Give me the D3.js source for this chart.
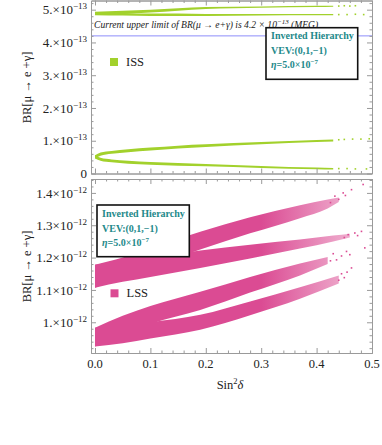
<!DOCTYPE html>
<html>
<head>
<meta charset="utf-8">
<script src="https://cdn.jsdelivr.net/npm/d3@7"></script>
<style>
  body { margin: 0; background: #fff; }
  svg { display: block; font-family: 'Liberation Serif', 'DejaVu Serif', serif; }
</style>
</head>
<body>
<svg width="382" height="445"></svg>
<script>
// ---- data (x = sin^2 delta, top panel in 1e-13, bottom panel in 1e-12) ----
const xTicks = [0, 0.1, 0.2, 0.3, 0.4, 0.5];
const xTickLabels = ['0.0', '0.1', '0.2', '0.3', '0.4', '0.5'];
const issTicks = [0, 1, 2, 3, 4, 5];
const issTickLabels = ['0', '1.', '2.', '3.', '4.', '5.'];
const lssTicks = [1.0, 1.1, 1.2, 1.3, 1.4];
const lssTickLabels = ['1.', '1.1', '1.2', '1.3', '1.4'];
const megLimit = 4.2;

// ISS bands: [x, low, high]
const issUpperA = [[0, 4.84, 4.94], [0.05, 4.87, 4.97], [0.1, 4.91, 5.0], [0.15, 4.97, 5.04], [0.2, 5.02, 5.08], [0.3, 5.06, 5.10], [0.4, 5.08, 5.12], [0.43, 5.09, 5.12]];
const issUpperB = [[0, 4.83, 4.92], [0.05, 4.82, 4.90], [0.1, 4.81, 4.88], [0.15, 4.81, 4.88], [0.2, 4.81, 4.87], [0.3, 4.82, 4.87], [0.4, 4.83, 4.87], [0.43, 4.83, 4.87]];
const issLowerA = [[0, 0.46, 0.56], [0.01, 0.54, 0.64], [0.03, 0.60, 0.69], [0.06, 0.65, 0.74], [0.1, 0.70, 0.79], [0.15, 0.76, 0.85], [0.2, 0.81, 0.89], [0.3, 0.89, 0.96], [0.4, 0.96, 1.02], [0.43, 0.98, 1.04]];
const issLowerB = [[0, 0.46, 0.56], [0.01, 0.39, 0.48], [0.03, 0.34, 0.43], [0.06, 0.30, 0.39], [0.1, 0.27, 0.35], [0.15, 0.24, 0.32], [0.2, 0.22, 0.29], [0.3, 0.17, 0.23], [0.4, 0.13, 0.18], [0.43, 0.12, 0.17]];
const issDots = [[0.44, 5.11], [0.45, 5.12], [0.46, 5.11], [0.47, 5.12], [0.44, 4.85], [0.455, 4.85], [0.47, 4.86], [0.485, 4.85],
  [0.44, 1.03], [0.45, 1.04], [0.465, 1.05], [0.48, 1.05], [0.495, 1.06], [0.44, 0.15], [0.455, 0.15], [0.47, 0.14], [0.49, 0.14]];

// LSS bands: [x, low, high]
const lssBandA = [[0, 1.107, 1.178], [0.05, 1.14, 1.20], [0.1, 1.17, 1.23], [0.19, 1.225, 1.28], [0.28, 1.275, 1.325], [0.37, 1.322, 1.362], [0.42, 1.352, 1.38], [0.44, 1.372, 1.386]];
const lssBandB = [[0, 1.107, 1.178], [0.05, 1.125, 1.19], [0.1, 1.14, 1.20], [0.19, 1.168, 1.222], [0.28, 1.197, 1.24], [0.37, 1.228, 1.256], [0.43, 1.25, 1.268], [0.46, 1.262, 1.274]];
const lssBandC = [[0, 0.925, 0.983], [0.05, 0.96, 1.02], [0.1, 0.995, 1.05], [0.19, 1.038, 1.094], [0.28, 1.092, 1.14], [0.37, 1.145, 1.182], [0.42, 1.18, 1.202]];
const lssBandD = [[0, 0.925, 0.983], [0.05, 0.935, 0.99], [0.1, 0.95, 1.0], [0.19, 0.977, 1.023], [0.28, 1.022, 1.064], [0.37, 1.073, 1.108], [0.44, 1.12, 1.145]];
const lssDots = [[0.484, 1.426], [0.463, 1.41], [0.448, 1.40], [0.433, 1.39], [0.452, 1.392], [0.44, 1.38], [0.425, 1.37],
  [0.481, 1.281], [0.469, 1.276], [0.457, 1.271], [0.474, 1.268], [0.45, 1.262], [0.487, 1.23],
  [0.454, 1.219], [0.46, 1.209], [0.436, 1.193], [0.445, 1.205], [0.43, 1.212], [0.425, 1.19],
  [0.463, 1.168], [0.445, 1.15], [0.455, 1.155], [0.45, 1.138], [0.44, 1.13]];

const lime = '#a2d12c';
const pink = '#db4b93';
const teal = '#23898a';
const frameCol = '#9a9a9a';

const svg = d3.select('svg');

const x = d3.scaleLinear().domain([-0.0072, 0.5]).range([91, 372]);
const yTop = d3.scaleLinear().domain([0, 5.28]).range([173.5, 0.5]);
const yBot = d3.scaleLinear().domain([0.905, 1.443]).range([353, 179]);

const defs = svg.append('defs');
[['clipTop', yTop], ['clipBot', yBot]].forEach(function (c) {
  const r = c[1].range();
  defs.append('clipPath').attr('id', c[0]).append('rect')
    .attr('x', x.range()[0]).attr('y', r[1])
    .attr('width', x.range()[1] - x.range()[0]).attr('height', r[0] - r[1]);
});
// scatter thins out toward the right end of the pink bands
const fade = defs.append('linearGradient').attr('id', 'pinkFade')
  .attr('gradientUnits', 'userSpaceOnUse')
  .attr('x1', x(0.3)).attr('x2', x(0.46)).attr('y1', 0).attr('y2', 0);
fade.append('stop').attr('offset', 0).attr('stop-color', pink).attr('stop-opacity', 1);
fade.append('stop').attr('offset', 1).attr('stop-color', pink).attr('stop-opacity', 0.45);

function drawBand(g, band, y, color) {
  const area = d3.area()
    .x(d => x(d[0]))
    .y0(d => y(d[1]))
    .y1(d => y(d[2]))
    .curve(d3.curveMonotoneX);
  g.append('path').datum(band).attr('d', area).attr('fill', color);
}

function drawDots(g, dots, y, color) {
  g.selectAll(null).data(dots).enter().append('rect')
    .attr('x', d => x(d[0]) - 0.8).attr('y', d => y(d[1]) - 0.8)
    .attr('width', 1.6).attr('height', 1.6).attr('fill', color);
}

function drawFrame(y, major, labels, minorStep, sup) {
  const g = svg.append('g');
  const [b, t] = y.range();
  const dom = y.domain();
  const minor = d3.range(Math.ceil(dom[0] / minorStep) * minorStep, dom[1], minorStep)
    .filter(v => !major.some(m => Math.abs(m - v) < 1e-9));
  const xMinor = d3.range(0, 0.5, 0.02).filter(v => !xTicks.some(m => Math.abs(m - v) < 1e-9));

  const left = g.append('g').attr('transform', `translate(${x.range()[0]},0)`)
    .call(d3.axisLeft(y).tickValues(major).tickSize(-5).tickSizeOuter(0).tickPadding(4).tickFormat(''));
  g.append('g').attr('transform', `translate(${x.range()[0]},0)`)
    .call(d3.axisLeft(y).tickValues(minor).tickSize(-2.5).tickSizeOuter(0).tickFormat(''));
  g.append('g').attr('transform', `translate(${x.range()[1]},0)`)
    .call(d3.axisRight(y).tickValues(major).tickSize(-5).tickSizeOuter(0).tickFormat(''));
  g.append('g').attr('transform', `translate(${x.range()[1]},0)`)
    .call(d3.axisRight(y).tickValues(minor).tickSize(-2.5).tickSizeOuter(0).tickFormat(''));
  [[b, d3.axisBottom], [t, d3.axisTop]].forEach(function (p) {
    g.append('g').attr('transform', `translate(0,${p[0]})`)
      .call(p[1](x).tickValues(xTicks).tickSize(-5).tickSizeOuter(0).tickFormat(''));
    g.append('g').attr('transform', `translate(0,${p[0]})`)
      .call(p[1](x).tickValues(xMinor).tickSize(-2.5).tickSizeOuter(0).tickFormat(''));
  });
  g.selectAll('.domain, .tick line').attr('stroke', frameCol);

  left.selectAll('.tick text').each(function (d, i) {
    const t = d3.select(this).attr('fill', '#222').attr('font-size', 13)
      .attr('font-family', 'Liberation Serif');
    if (labels[i] === '0') { t.text('0'); return; }
    t.text(labels[i] + '\u00d7' + '10');
    t.append('tspan').attr('dy', -5).attr('font-size', 9).text(sup);
  });
  return g;
}

// ---- top panel (ISS) ----
const gTop = svg.append('g').attr('clip-path', 'url(#clipTop)');
[issUpperA, issUpperB, issLowerA, issLowerB].forEach(b => drawBand(gTop, b, yTop, lime));
drawDots(gTop, issDots, yTop, lime);
gTop.append('line')
  .attr('x1', x.range()[0]).attr('x2', x.range()[1])
  .attr('y1', yTop(megLimit)).attr('y2', yTop(megLimit))
  .attr('stroke', '#8d8dfa').attr('stroke-width', 1);
drawFrame(yTop, issTicks, issTickLabels, 0.2, '\u221213');

// ---- bottom panel (LSS) ----
const gBot = svg.append('g').attr('clip-path', 'url(#clipBot)');
[lssBandA, lssBandB, lssBandC, lssBandD].forEach(b => drawBand(gBot, b, yBot, 'url(#pinkFade)'));
drawDots(gBot, lssDots, yBot, pink);
drawFrame(yBot, lssTicks, lssTickLabels, 0.02, '\u221212');

// x tick labels under bottom panel
svg.append('g').selectAll(null).data(xTicks).enter().append('text')
  .attr('x', d => x(d)).attr('y', 368)
  .attr('text-anchor', 'middle').attr('font-size', 12.5).attr('fill', '#222')
  .text((d, i) => xTickLabels[i]);

// axis titles
const xTitle = svg.append('text').attr('x', 230).attr('y', 389)
  .attr('text-anchor', 'middle').attr('font-size', 12.5).attr('fill', '#222');
xTitle.append('tspan').text('Sin');
xTitle.append('tspan').attr('dy', -5).attr('font-size', 8.5).text('2');
xTitle.append('tspan').attr('dy', 5).attr('font-style', 'italic').text('δ');

[87.5, 266.5].forEach(function (cy) {
  svg.append('text')
    .attr('transform', `translate(31,${cy}) rotate(-90)`)
    .attr('text-anchor', 'middle').attr('font-size', 12.5).attr('fill', '#222')
    .text('BR[μ → e +γ]');
});

// MEG annotation
const meg = svg.append('text').attr('x', 94).attr('y', 27.5)
  .attr('font-size', 9.6).attr('font-style', 'italic').attr('fill', '#222');
meg.append('tspan').text('Current upper limit of BR(μ → e+γ) is 4.2 × 10');
meg.append('tspan').attr('dy', -4).attr('font-size', 7).text('−13');
meg.append('tspan').attr('dy', 4).text(' (MEG)');

// legends
function legend(px, py, color, label) {
  svg.append('rect').attr('x', px).attr('y', py - 4).attr('width', 8).attr('height', 8).attr('fill', color);
  svg.append('text').attr('x', px + 16).attr('y', py + 4).attr('font-size', 12.5).attr('fill', '#222').text(label);
}
legend(110, 62, lime, 'ISS');
legend(110.5, 293.3, pink, 'LSS');

// info boxes
function infoBox(bx, by, bw, bh) {
  svg.append('rect').attr('x', bx).attr('y', by).attr('width', bw).attr('height', bh)
    .attr('fill', '#fff').attr('stroke', '#111').attr('stroke-width', 1.6);
  const t1 = svg.append('text').attr('x', bx + 5).attr('y', by + 11.5)
    .attr('font-size', 10).attr('font-weight', 'bold').attr('fill', teal).text('Inverted Hierarchy');
  const t2 = svg.append('text').attr('x', bx + 5).attr('y', by + 26.5)
    .attr('font-size', 10).attr('font-weight', 'bold').attr('fill', teal).text('VEV:(0,1,\u22121)');
  const t3 = svg.append('text').attr('x', bx + 5).attr('y', by + 40.5)
    .attr('font-size', 10).attr('font-weight', 'bold').attr('fill', teal);
  t3.append('tspan').attr('font-style', 'italic').text('η');
  t3.append('tspan').text('=5.0×10');
  t3.append('tspan').attr('dy', -4).attr('font-size', 7).text('−7');
}
infoBox(266, 27.7, 91.7, 51.6);
infoBox(97, 205, 92.3, 51.7);
</script>
</body>
</html>
